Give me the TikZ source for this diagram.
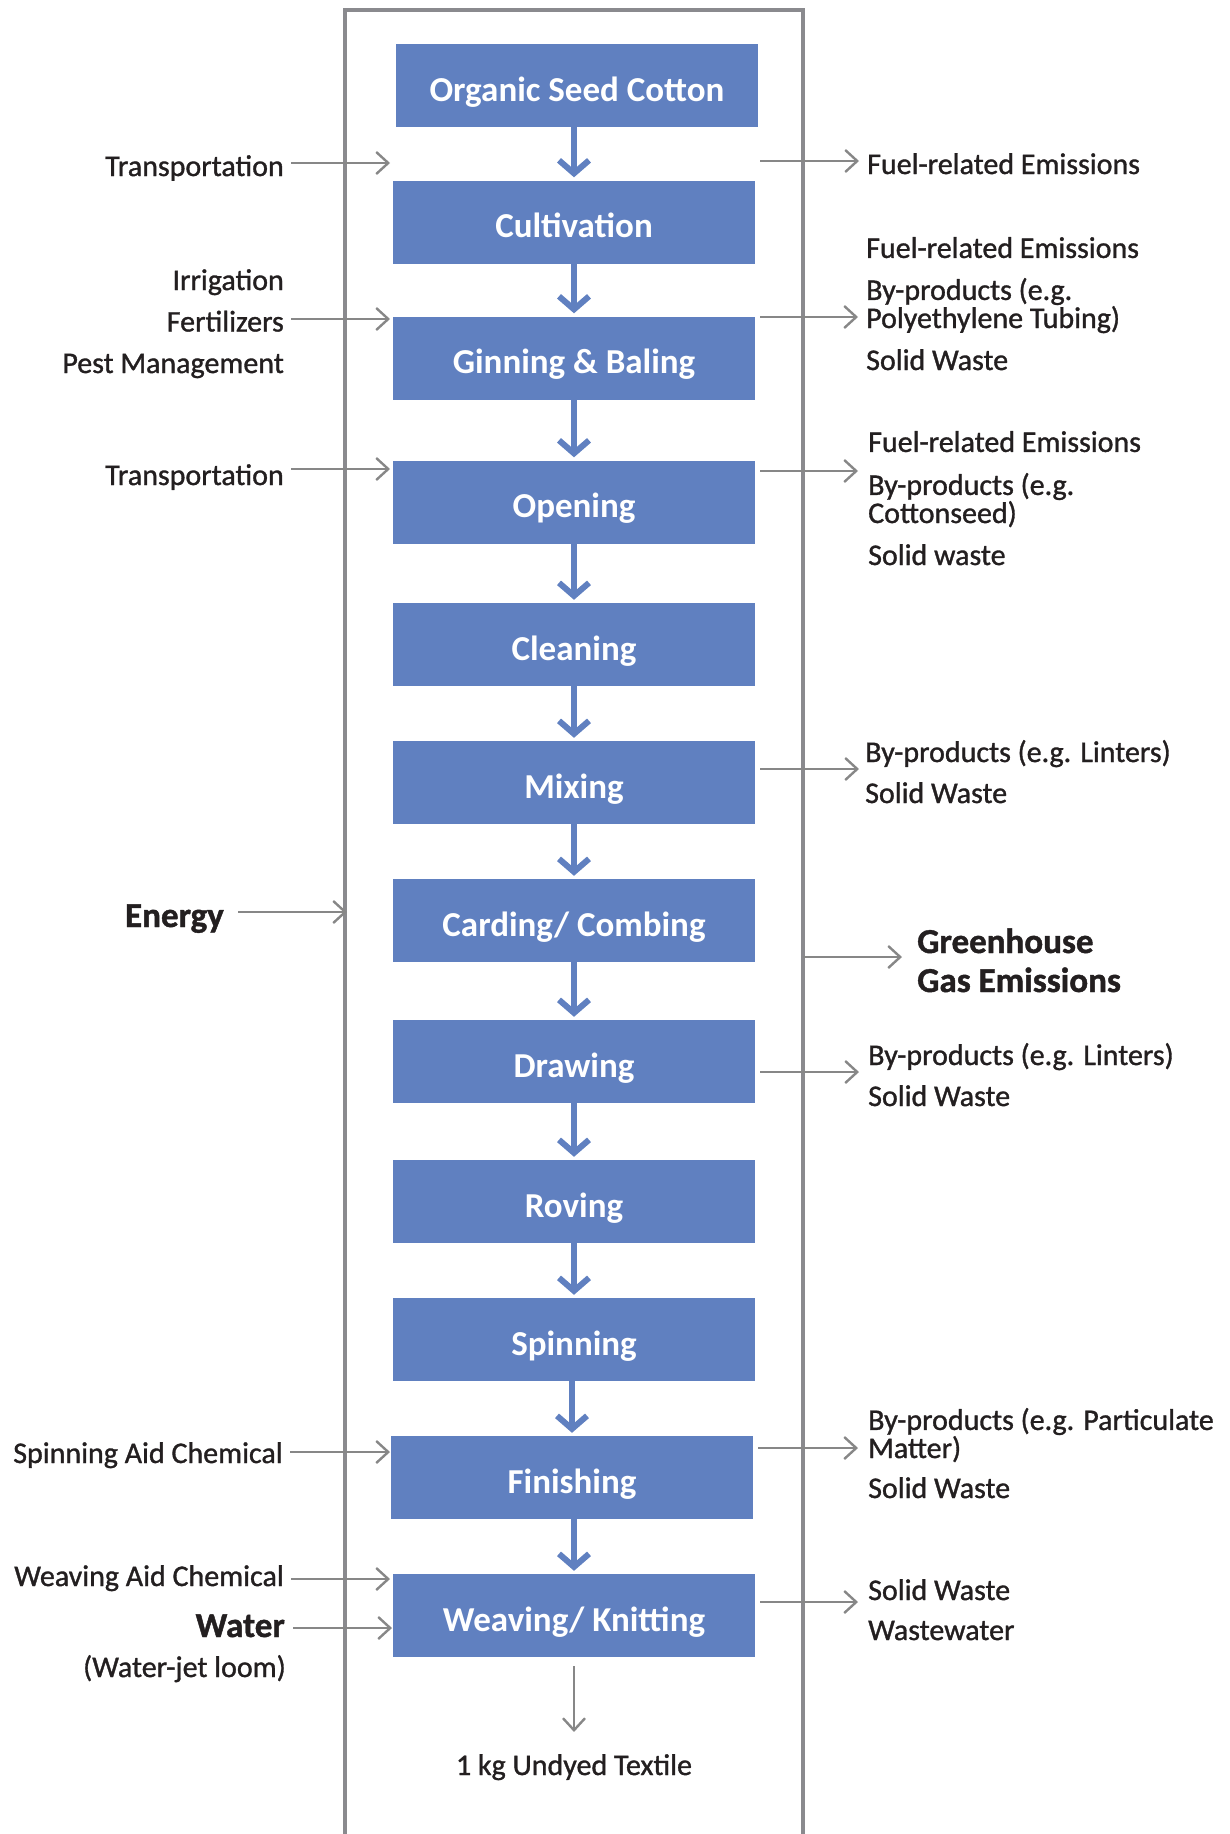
\documentclass[tikz,border=0pt]{standalone}
\usepackage{fontspec}
\setmainfont{Carlito}
\newfontfamily\labelfont{Carlito}[FakeBold=1.1]
\newfontfamily\heavyfont{Carlito}[UprightFont={* Bold}, FakeBold=1.2]
\usetikzlibrary{arrows.meta}

\definecolor{stepblue}{HTML}{6080C0}
\definecolor{framegray}{HTML}{8A8A8E}
\definecolor{flowgray}{HTML}{878787}
\definecolor{ink}{HTML}{231F20}

\begin{document}
\begin{tikzpicture}[x=1pt, y=-1pt,
  stage/.style={fill=stepblue, text=white, minimum width=362pt, minimum height=83pt, inner sep=0pt,
    text height=31pt, text depth=0pt, font=\fontsize{35}{35}\selectfont\bfseries},
  stepflow/.style={stepblue, line width=6pt, shorten >=3pt, -{Straight Barb[length=13pt, width=30pt]}},
  flow/.style={flowgray, line width=2.4pt, shorten <=7pt, -{Straight Barb[length=12pt, width=22pt]}},
  inlabel/.style={ink, anchor=base east, align=right, inner sep=0pt, font=\labelfont\fontsize{30}{26}\selectfont},
  outlabel/.style={ink, anchor=base west, align=left, inner sep=0pt, font=\labelfont\fontsize{30}{26}\selectfont},
  biglabel/.style={ink, inner sep=0pt, font=\heavyfont\fontsize{35}{39}\selectfont}]
\useasboundingbox (0,0) rectangle (1229,1834);

% outer frame, open at the bottom
\coordinate (frameL) at (345,10);
\coordinate (frameR) at (803,10);
\draw[framegray, line width=4.5pt] (frameL |- 0,1834) -- (frameL) -- (frameR) -- (frameR |- 0,1834);

% process steps
\foreach \name/\x/\y/\txt in {seed/577/85.5/Organic Seed Cotton, cult/574/222/Cultivation,
    gin/574/358/{Ginning \& Baling}, open/574/502/Opening, clean/574/644.5/Cleaning,
    mix/574/782.5/Mixing, card/574/920.5/{Carding/ Combing}, drawing/574/1061.5/Drawing,
    rov/574/1201.5/Roving, spin/574/1339.5/Spinning, fin/572/1477.5/Finishing,
    weave/574/1615.5/{Weaving/ Knitting}}
  \node[stage] (\name) at (\x,\y) {\txt};

\foreach \a/\b in {seed/cult, cult/gin, gin/open, open/clean, clean/mix, mix/card,
    card/drawing, drawing/rov, rov/spin, spin/fin, fin/weave}
  \draw[stepflow] (\b.north |- \a.south) -- (\b.north);

% inputs on the left (multi-line labels sit on their last baseline)
\node[inlabel] (trans1) at (284,176) {Transportation};
\node[inlabel] (farm) at (284,373) {Irrigation\\[15.5pt]Fertilizers\\[15.5pt]Pest Management};
\node[inlabel] (trans2) at (284,485) {Transportation};
\node[biglabel, anchor=base east] (energy) at (224,927) {Energy};
\node[inlabel] (spinaid) at (283,1463) {Spinning Aid Chemical};
\node[inlabel] (weaveaid) at (284,1586) {Weaving Aid Chemical};
\node[biglabel, anchor=base east] (water) at (285,1637) {Water};
\node[inlabel] (loom) at (286,1677) {(Water-jet loom)};

\coordinate (in1) at (390,163);
\coordinate (in2) at (390,319);
\coordinate (in3) at (390,469);
\coordinate (in4) at (347,912);
\coordinate (in5) at (390,1452);
\coordinate (in6) at (390,1579);
\coordinate (in7) at (392,1628);

\draw[flow] (trans1.east |- in1) -- (in1);
\draw[flow] (farm.east |- in2) -- (in2);
\draw[flow] (trans2.east |- in3) -- (in3);
\draw[flow, shorten <=14pt] (energy.east |- in4) -- (in4);
\draw[flow] (spinaid.east |- in5) -- (in5);
\draw[flow] (weaveaid.east |- in6) -- (in6);
\draw[flow, shorten <=8pt] (water.east |- in7) -- (in7);

% outputs on the right
\node[outlabel] (fuel1) at (867,174) {Fuel-related Emissions};
\node[outlabel] (ginout) at (866,370) {Fuel-related Emissions\\[16pt]By-products (e.g.\\Polyethylene Tubing)\\[16pt]Solid Waste};
\node[outlabel] (openout) at (868,565) {Fuel-related Emissions\\[17pt]By-products (e.g.\\Cottonseed)\\[16pt]Solid waste};
\node[outlabel] (mixout) at (865,803) {By-products (e.g. Linters)\\[15pt]Solid Waste};
\node[biglabel, anchor=base west, align=left] (ghg) at (917,992) {Greenhouse\\Gas Emissions};
\node[outlabel] (drawout) at (868,1106) {By-products (e.g. Linters)\\[15pt]Solid Waste};
\node[outlabel] (finout) at (868,1498) {By-products (e.g. Particulate\\Matter)\\[14pt]Solid Waste};
\node[outlabel] (weaveout) at (868,1640) {Solid Waste\\[14pt]Wastewater};

\coordinate (out1) at (859,161);
\coordinate (out2) at (858,317);
\coordinate (out3) at (858,471);
\coordinate (out4) at (859,769);
\coordinate (out5) at (902,957);
\coordinate (out6) at (859,1072);
\coordinate (out7) at (858,1448);
\coordinate (out8) at (858,1602);

\draw[flow, shorten <=5pt] (cult.east |- out1) -- (out1);
\draw[flow, shorten <=5pt] (gin.east |- out2) -- (out2);
\draw[flow, shorten <=5pt] (open.east |- out3) -- (out3);
\draw[flow, shorten <=5pt] (mix.east |- out4) -- (out4);
\draw[flow, shorten <=0pt] (frameR |- out5) -- (out5);
\draw[flow, shorten <=5pt] (drawing.east |- out6) -- (out6);
\draw[flow, shorten <=5pt] (fin.east |- out7) -- (out7);
\draw[flow, shorten <=5pt] (weave.east |- out8) -- (out8);

% final product
\node[inlabel, anchor=base] (textile) at (574,1775) {1 kg Undyed Textile};
\draw[flow, shorten <=9pt, shorten >=22pt] (weave.south) -- (textile.north);

\end{tikzpicture}
\end{document}
